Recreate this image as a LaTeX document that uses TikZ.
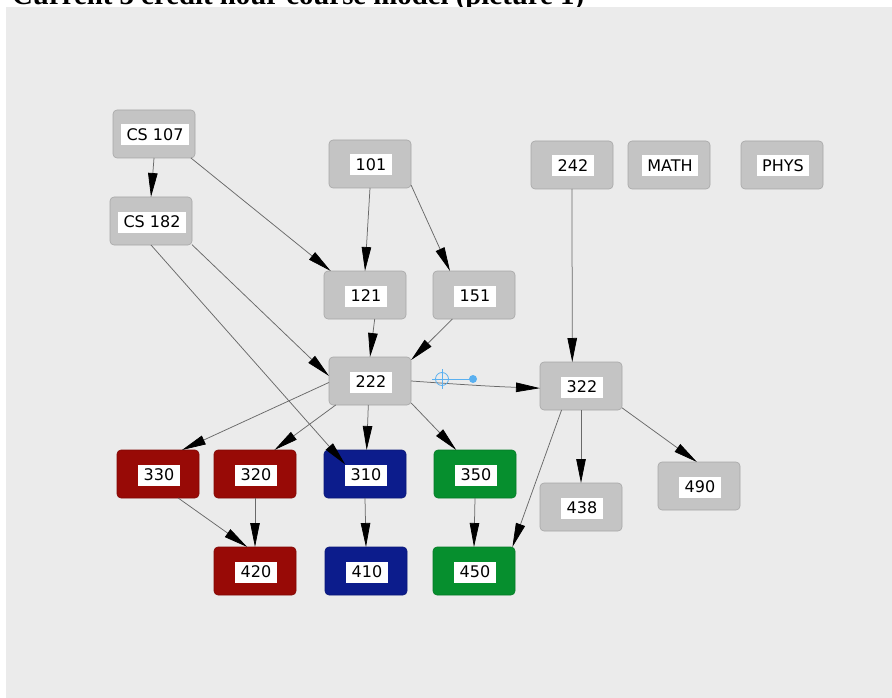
\documentclass[tikz,border=0pt]{standalone}
\usepackage{fontspec}
\setmainfont{Liberation Serif}
\newfontfamily\boxfont{DejaVu Sans}
\usetikzlibrary{arrows.meta}
\definecolor{panel}{RGB}{235,235,235}
\definecolor{boxgray}{RGB}{196,196,196}
\definecolor{boxred}{RGB}{152,10,6}
\definecolor{boxblue}{RGB}{12,28,140}
\definecolor{boxgreen}{RGB}{6,143,46}
\definecolor{edgegray}{RGB}{105,105,105}
\definecolor{handle}{RGB}{90,176,240}
\tikzstyle{box} = [rectangle, rounded corners=4pt, minimum width=82pt, minimum height=48pt, inner sep=0pt, outer sep=0pt, line width=0.6pt]
\tikzstyle{tag} = [fill=white, font=\boxfont\fontsize{16}{16}\selectfont, inner xsep=5.5pt, inner ysep=0pt, minimum height=21pt, text height=11.5pt, text depth=0pt, outer sep=0pt]
\tikzstyle{arrow} = [draw=edgegray, line width=0.75pt, -{Triangle[length=24pt,width=9.5pt,color=black]}]

\begin{document}
\begin{tikzpicture}[x=1pt,y=-1pt]
	\useasboundingbox (0,0) rectangle (892,698);
	\node[anchor=base west, inner sep=0pt, font=\bfseries\fontsize{28.8}{30}\selectfont] (title) at (12,4.5) {Current 3 credit hour course model (picture 1)};
	\fill[panel] (6,7) rectangle (892,698);
	% course boxes with their white tags
	\foreach \n/\x/\y/\t/\c in {cs107/154/134/CS 107/boxgray, cs182/151/221/CS 182/boxgray,
		c101/370/164/101/boxgray, c121/365/295/121/boxgray, c151/474/295/151/boxgray,
		c222/370/381/222/boxgray, c242/572/165/242/boxgray, cmath/669/165/MATH/boxgray,
		cphys/782/165/PHYS/boxgray, c322/581/386/322/boxgray, c438/581/507/438/boxgray,
		c490/699/486/490/boxgray, c330/158/474/330/boxred, c320/255/474/320/boxred,
		c420/255/571/420/boxred, c310/365/474/310/boxblue, c410/366/571/410/boxblue,
		c350/475/474/350/boxgreen, c450/474/571/450/boxgreen}
	{
		\node[box, fill=\c, draw=\c!85!black] (\n) at (\x,\y) {};
		\node[tag] (l\n) at ([xshift=1pt,yshift=-1pt]\n.center) {\t};
	}
	% prerequisites
	\draw[arrow] (cs107.south) -- (cs182.north);
	\draw[arrow] (cs107.-33) -- (c121.145);
	\draw[arrow] (cs182.-30) -- (c222.173);
	\draw[arrow] (cs182.south) -- (lc310.north west);
	\draw[arrow] (c101.south) -- (c121.north);
	\draw[arrow] (c101.-27) -- (c151.135);
	\draw[arrow] (c121.-68) -- (c222.north);
	\draw[arrow] (c151.-132) -- (c222.27);
	\draw[arrow] (c222.182) -- (c330.45);
	\draw[arrow] (c222.-145) -- (c320.51);
	\draw[arrow] (c222.-94) -- (c310.86);
	\draw[arrow] (c222.-28) -- (c350.128);
	\draw[arrow] (c222.east) to[out=-4,in=178] (c322.183);
	\draw[arrow] (c242.south) -- (c322.110);
	\draw[arrow] (c322.south) -- (c438.north);
	\draw[arrow] (c322.-28) -- (c490.95);
	\draw[arrow] (c322.-129) -- (c450.32);
	\draw[arrow] (c330.-50) -- (c420.108);
	\draw[arrow] (c320.south) -- (c420.north);
	\draw[arrow] (c310.south) -- (c410.north);
	\draw[arrow] (c350.south) -- (c450.north);
	% edit handle on the 222 -> 322 edge
	\coordinate (grip) at (442,379);
	\coordinate (knob) at (473,379);
	\draw[handle, line width=0.8pt] (grip) circle (6.5pt);
	\draw[handle, line width=0.8pt] ([xshift=-10pt]grip) -- (knob);
	\draw[handle, line width=0.8pt] ([yshift=10pt]grip) -- ([yshift=-10pt]grip);
	\fill[handle] (knob) circle (4pt);
\end{tikzpicture}
\end{document}
